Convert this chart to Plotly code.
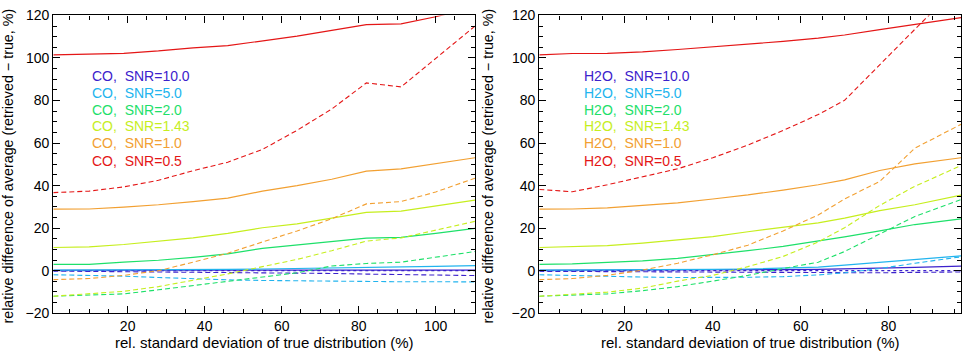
import plotly.graph_objects as go

# ---------------- data ----------------
snr_labels = ["10.0", "5.0", "2.0", "1.43", "1.0", "0.5"]
colors = ["#3c22cc", "#22b4ee", "#1ee06a", "#c6ee1e", "#f2a032", "#e41616"]

# CO panel
x_co = [0.7, 10, 19, 28, 37, 46, 55, 64, 73, 82, 91, 100, 110.2]
co_solid_10 = [0.2, 0.2, 0.2, 0.2, 0.2, 0.2, 0.2, 0.3, 0.3, 0.3, 0.3, 0.3, 0.3]
co_solid_5 = [0.3, 0.3, 0.3, 0.4, 0.5, 0.6, 0.8, 1.0, 1.3, 1.6, 1.8, 2.0, 2.4]
co_solid_2 = [3.0, 3.0, 4.0, 4.9, 6.3, 7.9, 10.5, 12.0, 13.5, 15.3, 15.7, 17.5, 19.9]
co_solid_143 = [10.9, 11.2, 12.3, 13.8, 15.4, 17.5, 20.2, 22.0, 24.7, 27.4, 28.0, 30.5, 33.2]
co_solid_1 = [28.9, 29.0, 29.9, 31.0, 32.5, 34.1, 37.4, 40.0, 43.0, 46.8, 47.9, 50.5, 53.1]
co_solid_05 = [101.5, 101.8, 102.2, 103.3, 104.8, 105.8, 108.1, 110.3, 113.0, 115.7, 116.0, 119.4, 124.0]
co_dash_10 = [-0.2, -0.3, -0.4, -0.5, -0.6, -0.7, -0.9, -1.1, -1.3, -1.6, -1.8, -2.0, -2.3]
co_dash_5 = [-1.9, -2.2, -2.6, -3.2, -3.9, -4.3, -4.6, -4.8, -5.0, -5.1, -5.2, -5.2, -5.3]
co_dash_2 = [-12.0, -11.5, -10.9, -9.0, -7.0, -4.9, -3.0, -1.0, 2.2, 3.4, 4.0, 6.5, 9.0]
co_dash_143 = [-12.0, -10.9, -9.7, -7.5, -4.5, -1.5, 1.9, 5.3, 9.4, 13.9, 15.4, 19.0, 23.2]
co_dash_1 = [-4.2, -3.7, -2.2, 0.0, 4.0, 8.2, 13.5, 18.7, 24.4, 31.4, 32.5, 37.0, 43.5]
co_dash_05 = [36.7, 37.4, 39.4, 42.5, 47.0, 51.0, 57.0, 66.0, 76.0, 88.3, 86.4, 100.0, 115.0]

# H2O panel
x_h2o = [0.5, 8, 16, 24, 32, 40, 48, 56, 64, 70, 78, 86, 96.5]
h2o_solid_10 = [0.2, 0.2, 0.2, 0.2, 0.3, 0.3, 0.4, 0.5, 0.6, 0.8, 1.2, 1.6, 2.1]
h2o_solid_5 = [0.3, 0.3, 0.3, 0.4, 0.5, 0.6, 0.8, 1.1, 1.7, 2.6, 4.0, 5.3, 7.0]
h2o_solid_2 = [3.0, 3.2, 3.9, 4.6, 5.8, 7.5, 9.4, 11.4, 13.9, 15.9, 18.7, 21.7, 24.4]
h2o_solid_143 = [10.9, 11.2, 11.8, 13.0, 14.5, 16.0, 18.3, 20.5, 22.5, 24.7, 28.2, 31.0, 35.5]
h2o_solid_1 = [28.9, 29.0, 29.5, 30.7, 31.9, 33.7, 35.6, 37.9, 40.4, 42.7, 47.1, 50.2, 53.1]
h2o_solid_05 = [101.5, 102.1, 102.2, 102.9, 104.0, 105.2, 106.7, 107.8, 109.3, 110.8, 113.3, 115.7, 119.0]
h2o_dash_10 = [-0.3, -0.4, -0.5, -0.6, -0.7, -0.8, -0.9, -1.0, -1.1, -1.1, -1.0, -0.8, -0.6]
h2o_dash_5 = [-1.9, -2.3, -2.7, -3.0, -3.2, -3.2, -3.1, -2.8, -2.0, -1.0, 1.0, 3.5, 6.5]
h2o_dash_2 = [-12.0, -11.6, -10.9, -9.4, -7.5, -4.9, -2.2, 1.0, 4.0, 9.0, 17.2, 25.5, 33.4]
h2o_dash_143 = [-12.0, -11.2, -10.1, -8.2, -4.9, -2.2, 1.9, 6.7, 13.5, 20.2, 30.7, 39.7, 49.4]
h2o_dash_1 = [-4.2, -3.7, -2.2, 0.3, 3.5, 7.5, 12.0, 18.7, 26.2, 33.7, 42.0, 57.6, 68.8]
h2o_dash_05 = [38.2, 37.1, 40.4, 44.1, 47.9, 53.1, 59.1, 65.9, 73.4, 80.1, 97.0, 113.5, 135.0]

co_solid = [co_solid_10, co_solid_5, co_solid_2, co_solid_143, co_solid_1, co_solid_05]
co_dash = [co_dash_10, co_dash_5, co_dash_2, co_dash_143, co_dash_1, co_dash_05]
h2o_solid = [h2o_solid_10, h2o_solid_5, h2o_solid_2, h2o_solid_143, h2o_solid_1, h2o_solid_05]
h2o_dash = [h2o_dash_10, h2o_dash_5, h2o_dash_2, h2o_dash_143, h2o_dash_1, h2o_dash_05]

x_ticks = [20, 40, 60, 80, 100]
y_ticks = [-20, 0, 20, 40, 60, 80, 100, 120]

# ---------------- figure ----------------
W, H = 965, 358
FONT = "Liberation Sans"
fig = go.Figure()

panels = [("x", "y", x_co, co_solid, co_dash, "CO"),
          ("x2", "y2", x_h2o, h2o_solid, h2o_dash, "H2O")]

for xa, ya, xs, sol, das, name in panels:
    # dotted zero reference
    fig.add_trace(go.Scatter(x=[xs[0], xs[-1]], y=[0, 0], mode="lines",
                             line=dict(color=colors[0], width=1.2, dash="dot"),
                             xaxis=xa, yaxis=ya, showlegend=False, hoverinfo="skip"))
    for i in range(len(snr_labels)):
        fig.add_trace(go.Scatter(x=xs, y=das[i], mode="lines",
                                 line=dict(color=colors[i], width=1.1, dash="5px,3px"),
                                 xaxis=xa, yaxis=ya, showlegend=False))
        fig.add_trace(go.Scatter(x=xs, y=sol[i], mode="lines",
                                 line=dict(color=colors[i], width=1.2),
                                 xaxis=xa, yaxis=ya, showlegend=False))

y_dom = [1 - 319.5 / H, 1 - 7.8 / H]
axis_common = dict(showgrid=False, zeroline=False, showline=True, linecolor="black",
                   linewidth=1.3, mirror="ticks", ticks="inside", ticklen=7,
                   tickwidth=1, tickcolor="black", ticklabeloverflow="allow",
                   tickfont=dict(family=FONT, size=14, color="black"))
minor = dict(dtick=5, tick0=0, ticklen=4, ticks="inside", tickcolor="black")

fig.update_layout(
    width=W, height=H, autosize=False,
    margin=dict(l=0, r=0, t=0, b=0),
    paper_bgcolor="white", plot_bgcolor="white",
    xaxis=dict(domain=[53.3 / W, 475 / W], range=[x_co[0], x_co[-1]],
               tickvals=x_ticks, anchor="y", minor=minor, **axis_common),
    yaxis=dict(domain=y_dom, range=[-20, 120], tickvals=y_ticks, anchor="x",
               minor=minor, **axis_common),
    xaxis2=dict(domain=[539.3 / W, 961 / W], range=[x_h2o[0], x_h2o[-1]],
                tickvals=x_ticks, anchor="y2", minor=minor, **axis_common),
    yaxis2=dict(domain=y_dom, range=[-20, 120], tickvals=y_ticks, anchor="x2",
                minor=minor, **axis_common),
)

ytitle = "relative difference of average (retrieved \u2212 true, %)"
xtitle = "rel. standard deviation of true distribution (%)"
ann = []
for xc in (8, 488):
    ann.append(dict(text=ytitle, x=xc / W, y=1 - 166 / H, xref="paper", yref="paper",
                    textangle=-90, showarrow=False, xanchor="center", yanchor="middle",
                    font=dict(family=FONT, size=14.3, color="black")))
for xc in (264, 750):
    ann.append(dict(text=xtitle, x=xc / W, y=1 - 350.5 / H, xref="paper", yref="paper",
                    showarrow=False, xanchor="center", yanchor="middle",
                    font=dict(family=FONT, size=15, color="black")))

rows = [70.7, 88.7, 106.3, 124.0, 141.7, 159.7]
for xl, name in ((90, "CO"), (581.7, "H2O")):
    for i, lab in enumerate(snr_labels):
        ann.append(dict(text=f"{name},&nbsp;&nbsp;SNR={lab}", x=xl / W, y=1 - rows[i] / H,
                        xref="paper", yref="paper", showarrow=False,
                        xanchor="left", yanchor="middle",
                        font=dict(family=FONT, size=14, color=colors[i])))
fig.update_layout(annotations=ann)

fig.write_html("out.html")
